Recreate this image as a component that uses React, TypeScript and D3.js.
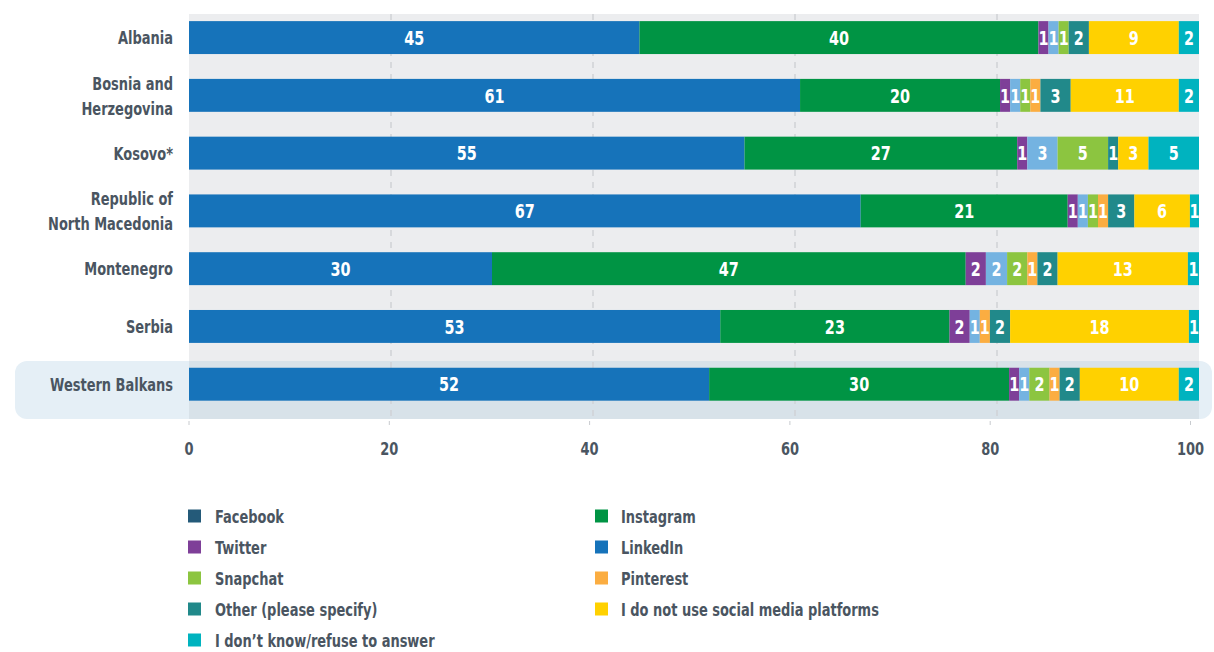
import React from 'react';
import * as d3 from 'd3';

const categories = ['Albania', 'Bosnia and Herzegovina', 'Kosovo*', 'Republic of North Macedonia', 'Montenegro', 'Serbia', 'Western Balkans'];
const categoryLines = [['Albania'], ['Bosnia and', 'Herzegovina'], ['Kosovo*'], ['Republic of', 'North Macedonia'], ['Montenegro'], ['Serbia'], ['Western Balkans']];

const seriesKeys = ['LinkedIn', 'Instagram', 'Twitter', 'Facebook', 'Snapchat', 'Pinterest', 'Other (please specify)', 'I do not use social media platforms', 'I don’t know/refuse to answer'];
const linkedIn = [44.6, 60.5, 55, 66.5, 30, 52.6, 51.5];
const instagram = [39.5, 19.8, 27, 20.5, 46.9, 22.7, 29.7];
const twitter = [1, 1, 1, 1, 2, 2, 1];
const facebook = [1, 1, 3, 1, 2.1, 1, 1];
const snapchat = [1, 1, 5, 1, 2, 0, 2];
const pinterest = [0, 1, 0, 1, 1, 1, 1];
const other = [2, 3, 1, 2.6, 2, 2, 2];
const noUse = [8.9, 10.7, 3, 5.5, 12.9, 17.7, 9.8];
const dontKnow = [2, 2, 5, 0.9, 1.1, 1, 2];
const seriesValues = [linkedIn, instagram, twitter, facebook, snapchat, pinterest, other, noUse, dontKnow];

const barColors = ['#1673ba', '#009444', '#7e3f98', '#74b3e1', '#8cc540', '#fbad41', '#21898a', '#ffd100', '#00b3bf'];

const legendLeft = ['Facebook', 'Twitter', 'Snapchat', 'Other (please specify)', 'I don’t know/refuse to answer'];
const legendLeftColors = ['#245a79', '#7e3f98', '#8cc540', '#21898a', '#00b3bf'];
const legendRight = ['Instagram', 'LinkedIn', 'Pinterest', 'I do not use social media platforms'];
const legendRightColors = ['#009444', '#1673ba', '#fbad41', '#ffd100'];

const xTicks = [0, 20, 40, 60, 80, 100];

const FONT = "'DejaVu Sans Condensed', 'DejaVu Sans', sans-serif";
const TEXT = '#4a5561';

function T(props: any) {
  const { x, y, sx, children, ...rest } = props;
  return (
    <text transform={`translate(${x},${y}) scale(${sx},1)`} dy="0.36em" fontWeight={700} {...rest}>
      {children}
    </text>
  );
}

export default function App() {
  const W = 1214;
  const H = 652;
  const x0 = 189;
  const x1 = 1199;
  const plotTop = 14;
  const plotBottom = 419;

  const x = d3.scaleLinear().domain([0, 100]).range([x0, x1]);
  const xAxis = d3.scaleLinear().domain([0, 100]).range([x0, 1190.5]);
  const y = d3.scaleBand<string>().domain(categories).range([8.7, 413.1]).paddingInner(0.43).paddingOuter(0.215);

  const rows = categories.map((c, i) => {
    const o: any = { category: c };
    seriesKeys.forEach((k, j) => (o[k] = seriesValues[j][i]));
    return o;
  });
  const stacked = d3.stack<any>().keys(seriesKeys)(rows);

  const hlY = 361;
  const hlH = 58;

  const legendY = d3.scalePoint<number>().domain(d3.range(5)).range([516, 640]);

  const labelSize = 18.5;
  const labelSx = 0.78;

  return (
    <svg width={W} height={H} style={{ position: 'absolute', left: 0, top: 0 }} fontFamily={FONT}>
      <rect x={0} y={0} width={W} height={H} fill="#ffffff" />
      <rect x={15} y={hlY} width={1197} height={hlH} rx={12} fill="#e5eff6" />
      <rect x={x0} y={plotTop} width={x1 - x0} height={hlY - plotTop} fill="#ecedef" />
      <rect x={x0} y={hlY} width={x1 - x0} height={plotBottom - hlY} fill="#d8e2e9" />
      {xTicks.filter((t) => t > 0 && t < 100).map((t) => (
        <line key={'g' + t} x1={x(t)} x2={x(t)} y1={plotTop} y2={plotBottom} stroke="#cfd2d6" strokeWidth={1.5} strokeDasharray="6,6" />
      ))}
      {stacked.map((s, j) => (
        <g key={s.key} fill={barColors[j]}>
          {s.map((d, i) => (
            d[1] - d[0] > 0 ? (
              <rect key={i} x={x(d[0])} y={y(categories[i])} width={x(d[1]) - x(d[0])} height={y.bandwidth()} />
            ) : null
          ))}
        </g>
      ))}
      {stacked.map((s, j) => (
        <g key={'l' + s.key} fill="#ffffff" fontSize={20} textAnchor="middle">
          {s.map((d, i) => {
            const v = seriesValues[j][i];
            if (v <= 0) return null;
            return (
              <T key={i} x={(x(d[0]) + x(d[1])) / 2} y={(y(categories[i]) as number) + y.bandwidth() / 2} sx={0.8}>
                {Math.round(v)}
              </T>
            );
          })}
        </g>
      ))}
      {categories.map((c, i) => {
        const lines = categoryLines[i];
        const cy = (y(c) as number) + y.bandwidth() / 2;
        return (
          <g key={c} fill={TEXT} fontSize={labelSize} textAnchor="end">
            {lines.map((ln, k) => (
              <T key={k} x={173} y={cy + (k - (lines.length - 1) / 2) * 25} sx={labelSx}>{ln}</T>
            ))}
          </g>
        );
      })}
      {xTicks.map((t) => (
        <g key={'t' + t}>
          <line x1={xAxis(t)} x2={xAxis(t)} y1={421} y2={425} stroke="#c8cbcf" strokeWidth={1} />
          <T x={xAxis(t)} y={448} sx={labelSx} textAnchor="middle" fill={TEXT} fontSize={labelSize}>{t}</T>
        </g>
      ))}
      {legendLeft.map((name, i) => (
        <g key={'ll' + name}>
          <rect x={188} y={legendY(i)! - 6.5} width={13} height={13} fill={legendLeftColors[i]} />
          <T x={215} y={legendY(i)} sx={labelSx} fill={TEXT} fontSize={labelSize}>{name}</T>
        </g>
      ))}
      {legendRight.map((name, i) => (
        <g key={'lr' + name}>
          <rect x={595} y={legendY(i)! - 6.5} width={13} height={13} fill={legendRightColors[i]} />
          <T x={621} y={legendY(i)} sx={labelSx} fill={TEXT} fontSize={labelSize}>{name}</T>
        </g>
      ))}
    </svg>
  );
}
